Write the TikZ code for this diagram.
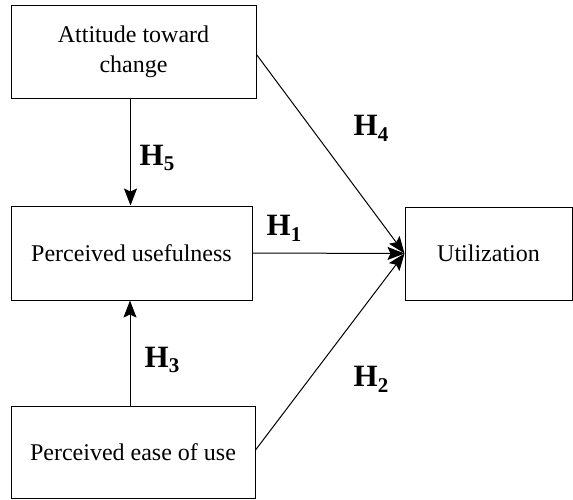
\documentclass[tikz,border=0pt]{standalone}
\usepackage{fontspec}
\setmainfont{Liberation Serif}
\usetikzlibrary{arrows.meta,positioning,calc}

\tikzset{
  construct/.style={draw, line width=1pt, align=center, inner sep=0pt,
    font=\fontsize{24}{30}\selectfont},
  hyp/.style={font=\fontsize{31}{33}\selectfont\bfseries, inner sep=0pt},
  link/.style={-{Stealth[length=17pt, width=13pt, inset=3pt]}, line width=1pt}
}

\newcommand{\hypo}[1]{H\raisebox{-0.4ex}{\fontsize{21}{22}\selectfont #1}}

\begin{document}
\begin{tikzpicture}[x=1pt, y=-1pt]
  \useasboundingbox (0,0) rectangle (573,499);

  \node[construct, minimum width=245pt, minimum height=93pt] (att) at (133.5, 51.5)
    {Attitude toward\\change};
  \node[construct, minimum width=241pt, minimum height=94pt] (pu) at (131.5, 253)
    {Perceived usefulness};
  \node[construct, minimum width=244pt, minimum height=92pt] (peou) at (133, 452)
    {Perceived ease of use};
  \node[construct, minimum width=167pt, minimum height=93pt] (util) at (488.5, 253.5)
    {Utilization};

  % paths between the constructs
  \draw[link] ($(att.south)+(-3,0)$) coordinate (a5) -- (a5 |- pu.north);
  \draw[link] ($(peou.north)+(-3,0)$) coordinate (a3) -- (a3 |- pu.south);
  \draw[link] (pu.east) -- (util.west);
  \draw[link] ($(att.east)+(0,3)$) -- (util.west);
  \draw[link] ($(peou.east)+(0,-2)$) -- (util.west);

  \node[hyp] (h5) at (157, 158) {\hypo{5}};
  \node[hyp] (h4) at (371, 128) {\hypo{4}};
  \node[hyp] (h1) at (284, 228) {\hypo{1}};
  \node[hyp] (h3) at (162, 360) {\hypo{3}};
  \node[hyp] (h2) at (371, 379) {\hypo{2}};
\end{tikzpicture}
\end{document}
